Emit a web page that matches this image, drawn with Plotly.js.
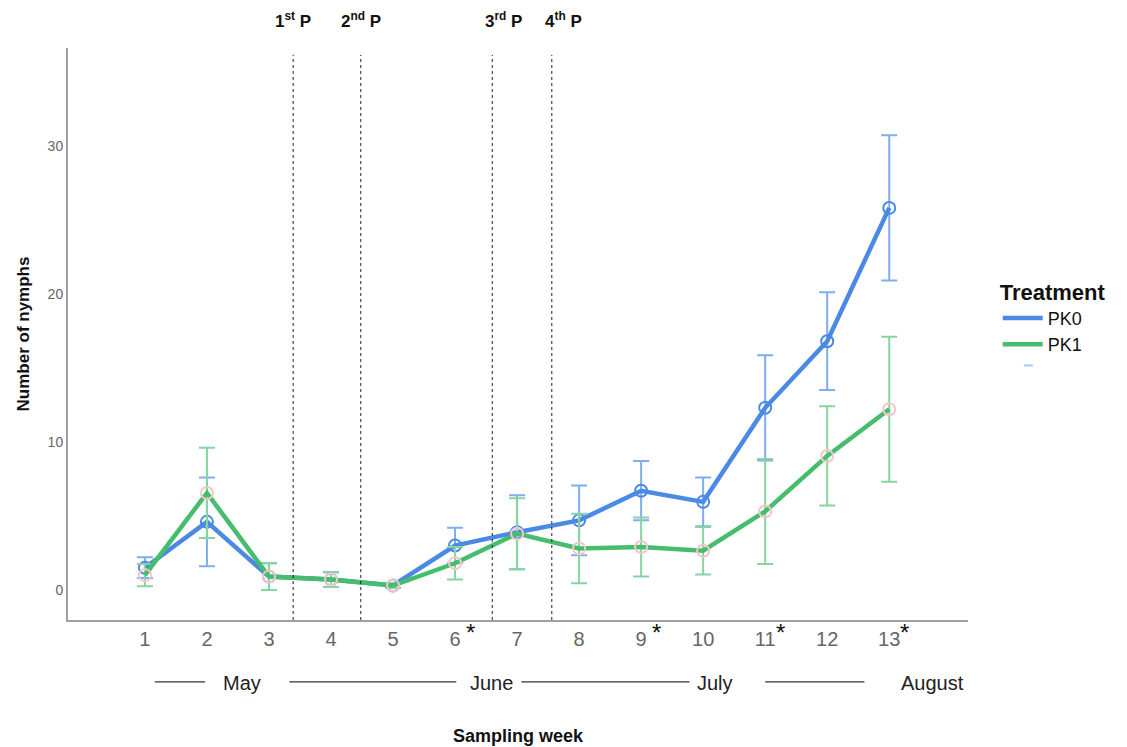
<!DOCTYPE html>
<html><head><meta charset="utf-8">
<script src="https://cdn.plot.ly/plotly-3.0.1.min.js"></script>
<style>body{margin:0;background:#fff}#c{width:1127px;height:747px}</style>
</head><body><div id="c"></div>
<script>
const weeks = [1,2,3,4,5,6,7,8,9,10,11,12,13];
const pk0Mean = [1.5,4.6,0.9,0.7,0.3,3.0,3.9,4.7,6.7,5.95,12.3,16.8,25.8];
const pk0Err  = [0.7,3.0,0.9,0.5,0.15,1.2,2.5,2.35,2.0,1.65,3.55,3.3,4.9];
const pk1Mean = [1.0,6.55,0.9,0.7,0.3,1.8,3.8,2.8,2.9,2.65,5.3,9.05,12.2];
const pk1Err  = [0.75,3.05,0.9,0.5,0.15,1.1,2.4,2.35,2.0,1.6,3.55,3.35,4.9];
const sprayWeeks = [3.39,4.48,6.6,7.56];
const sprayLabels = ["1<sup>st</sup> P","2<sup>nd</sup> P","3<sup>rd</sup> P","4<sup>th</sup> P"];
const sprayLabelX = [3.39,4.48,6.78,7.75];
const sigWeeks = [6,9,11,13];
const months = ["May","June","July","August"];
const monthX = [2.56,6.58,10.19,13.69];
const monthLines = [[1.16,1.97],[3.33,6.02],[7.07,9.78],[11.0,12.6]];

const blue = "#4a89e4", blueE = "#7fadee";
const green = "#45bd6c", greenE = "#86d5a0";
const narrow = "Liberation Sans Narrow, Arial Narrow, Liberation Sans, Arial";

const traces = [
  {x:weeks,y:pk0Mean,name:"PK0",mode:"lines",line:{color:blue,width:4.5},
   error_y:{type:"data",array:pk0Err,visible:true,color:blueE,thickness:2,width:8}},
  {x:weeks,y:pk0Mean,mode:"markers",showlegend:false,hoverinfo:"skip",
   marker:{symbol:"circle-open",size:12,color:blue,line:{width:2}}},
  {x:weeks,y:pk1Mean,name:"PK1",mode:"lines",line:{color:green,width:4.5},
   error_y:{type:"data",array:pk1Err,visible:true,color:greenE,thickness:2,width:8}},
  {x:weeks,y:pk1Mean,mode:"markers",showlegend:false,hoverinfo:"skip",
   marker:{symbol:"circle-open",size:12,color:"#f3c5cc",line:{width:2}}}
];

const shapes = [];
const annotations = [];
sprayWeeks.forEach((w,i)=>{
  shapes.push({type:"line",xref:"x",yref:"paper",x0:w,x1:w,y0:0,y1:0.988,
    line:{color:"#222",width:1,dash:"dot"}});
  annotations.push({xref:"x",yref:"paper",x:sprayLabelX[i],y:1.026,text:"<b>"+sprayLabels[i]+"</b>",
    showarrow:false,xanchor:"center",yanchor:"bottom",font:{family:"Liberation Sans, Arial",size:17,color:"#111"}});
});
sigWeeks.forEach(w=>{
  annotations.push({xref:"x",yref:"paper",x:w,y:0.005,text:"*",showarrow:false,
    xanchor:"left",yanchor:"top",xshift:9,font:{family:"Liberation Sans, Arial",size:24,color:"#111"}});
});
months.forEach((m,i)=>{
  annotations.push({xref:"x",yref:"paper",x:monthX[i],y:-0.11,text:m,showarrow:false,
    xanchor:"center",yanchor:"middle",font:{family:narrow,size:20,color:"#222"}});
});
monthLines.forEach(l=>{
  shapes.push({type:"line",xref:"x",yref:"paper",x0:l[0],x1:l[1],y0:-0.108,y1:-0.108,
    line:{color:"#333",width:1.3}});
});
// small stray legend mark
shapes.push({type:"line",xref:"paper",yref:"paper",x0:1.062,x1:1.072,y0:0.445,y1:0.445,
  line:{color:"#a9c6f2",width:2}});

const layout = {
  width:1127,height:747,
  margin:{l:68,r:159,t:48,b:127},
  paper_bgcolor:"#fff",plot_bgcolor:"#fff",
  showlegend:true,
  legend:{x:1.033,y:0.61,xanchor:"left",yanchor:"top",tracegroupgap:0,itemwidth:40,
    title:{text:"<b>Treatment</b>",font:{family:"Liberation Sans, Arial",size:22,color:"#111"}},
    font:{family:"Liberation Sans, Arial",size:18,color:"#111"},bgcolor:"rgba(0,0,0,0)"},
  xaxis:{range:[-0.24,14.27],tickvals:weeks,ticktext:weeks.map(String),showgrid:false,zeroline:false,
    showline:true,linecolor:"#a0a0a0",linewidth:2,ticks:"",
    tickfont:{family:narrow,size:20,color:"#666"},
    title:{text:"<b>Sampling week</b>",standoff:80,font:{family:"Liberation Sans, Arial",size:18,color:"#111"}}},
  yaxis:{range:[-2.03,36.6],tickvals:[0,10,20,30],showgrid:false,zeroline:false,
    showline:true,linecolor:"#a0a0a0",linewidth:2,ticks:"",
    tickfont:{family:"Liberation Sans, Arial",size:14,color:"#666"},
    title:{text:"<b>Number of nymphs</b>",standoff:14,font:{family:"Liberation Sans, Arial",size:17,color:"#111"}}},
  shapes:shapes,annotations:annotations
};
Plotly.newPlot("c",traces,layout,{displayModeBar:false,staticPlot:true});
</script></body></html>
